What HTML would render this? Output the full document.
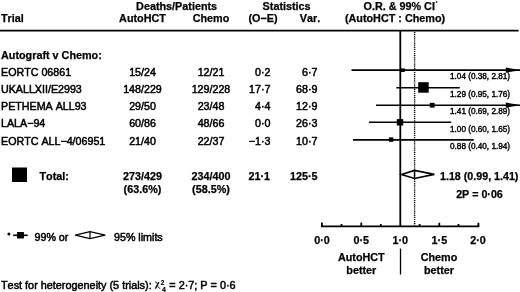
<!DOCTYPE html>
<html><head><meta charset="utf-8">
<style>
html,body{margin:0;padding:0;background:#fff;width:520px;height:292px;overflow:hidden}
svg{display:block;filter:grayscale(1)}
text{font-family:"Liberation Sans",sans-serif;fill:#000;font-kerning:none}
.b{font-weight:bold}
.h{font-size:10.8px;font-weight:bold;stroke:#000;stroke-width:0.25px}
.d{font-size:10.7px;stroke:#000;stroke-width:0.5px}
.s{font-size:8.2px;stroke:#000;stroke-width:0.4px}
</style></head><body>
<svg width="520" height="292" viewBox="0 0 520 292">
<!-- header -->
<text class="h" x="176.6" y="9.6" text-anchor="middle">Deaths/Patients</text>
<text class="h" x="286.6" y="9.6" text-anchor="middle">Statistics</text>
<text class="h" x="399.2" y="9.8" text-anchor="middle">O.R. &amp; 99% CI</text>
<text style="font-size:5.5px;font-weight:bold" x="435.6" y="5">*</text>
<text class="h" x="1" y="22.3">Trial</text>
<text class="h" x="142.5" y="22.3" text-anchor="middle">AutoHCT</text>
<text class="h" x="211" y="22.3" text-anchor="middle">Chemo</text>
<text class="h" x="263" y="22.3" text-anchor="middle">(O−E)</text>
<text class="h" x="310" y="22.3" text-anchor="middle">Var.</text>
<text class="h" x="395" y="22.3" text-anchor="middle">(AutoHCT : Chemo)</text>
<line x1="0" y1="30.7" x2="518.6" y2="30.7" stroke="#000" stroke-width="1.8"/>

<text class="h" x="1" y="58.5">Autograft v Chemo:</text>

<g class="d">
<text x="1" y="75.7">EORTC 06861</text>
<text x="1" y="93">UKALLXII/E2993</text>
<text x="1" y="109.9">PETHEMA ALL93</text>
<text x="1" y="127.2">LALA−94</text>
<text x="1" y="144.5">EORTC ALL−4/06951</text>
</g>
<g class="d" text-anchor="middle">
<text x="142.5" y="75.7">15/24</text>
<text x="142.5" y="93">148/229</text>
<text x="142.5" y="109.9">29/50</text>
<text x="142.5" y="127.2">60/86</text>
<text x="142.5" y="144.5">21/40</text>
<text x="211" y="75.7">12/21</text>
<text x="211" y="93">129/228</text>
<text x="211" y="109.9">23/48</text>
<text x="211" y="127.2">48/66</text>
<text x="211" y="144.5">22/37</text>
</g>
<g class="d" text-anchor="end">
<text x="270.5" y="75.7">0·2</text>
<text x="270.5" y="93">17·7</text>
<text x="270.5" y="109.9">4·4</text>
<text x="270.5" y="127.2">0·0</text>
<text x="270.5" y="144.5">−1·3</text>
<text x="317.5" y="75.7">6·7</text>
<text x="317.5" y="93">68·9</text>
<text x="317.5" y="109.9">12·9</text>
<text x="317.5" y="127.2">26·3</text>
<text x="317.5" y="144.5">10·7</text>
</g>

<!-- plot lines -->
<line x1="400.3" y1="31" x2="400.3" y2="227" stroke="#000" stroke-width="1.8"/>
<line x1="414.6" y1="32" x2="414.6" y2="226.5" stroke="#000" stroke-width="1.4" stroke-dasharray="1.2,0.9"/>

<g stroke="#000" stroke-width="1.6">
<line x1="351.5" y1="70.1" x2="520" y2="70.1"/>
<line x1="396.3" y1="87.8" x2="459.8" y2="87.8"/>
<line x1="376" y1="105.2" x2="520" y2="105.2"/>
<line x1="369" y1="122.3" x2="451.2" y2="122.3"/>
<line x1="353" y1="139.9" x2="473.7" y2="139.9"/>
</g>
<polygon points="505.8,67.5 521,70.2 505.8,72.7" fill="#000"/>
<polygon points="505.8,102.5 521,105.2 505.8,107.7" fill="#000"/>
<g fill="#000">
<rect x="400.8" y="68.4" width="4" height="3.6"/>
<rect x="418.2" y="82.2" width="10.5" height="10.5"/>
<rect x="429.8" y="102.8" width="4.8" height="4.8"/>
<rect x="396.8" y="119.1" width="6.4" height="6.4"/>
<rect x="388.9" y="137.4" width="4.4" height="4.4"/>
</g>
<g class="s">
<text x="450" y="79.2">1.04 (0.38, 2.81)</text>
<text x="450" y="96.6">1.29 (0.95, 1.76)</text>
<text x="450" y="114">1.41 (0.69, 2.89)</text>
<text x="450" y="132">1.00 (0.60, 1.65)</text>
<text x="450" y="149">0.88 (0.40, 1.94)</text>
</g>

<!-- total -->
<rect x="12" y="167.5" width="15" height="14.5" fill="#000"/>
<text class="h" x="39.5" y="180">Total:</text>
<text class="h" x="142.5" y="180.3" text-anchor="middle">273/429</text>
<text class="h" x="142.5" y="193.3" text-anchor="middle">(63.6%)</text>
<text class="h" x="211" y="180.3" text-anchor="middle">234/400</text>
<text class="h" x="211" y="193.3" text-anchor="middle">(58.5%)</text>
<text class="h" x="270" y="180.3" text-anchor="end">21·1</text>
<text class="h" x="317.5" y="180.3" text-anchor="end">125·5</text>
<polygon points="401.4,174.4 414.5,170.4 434.3,174.4 414.5,178.5" fill="none" stroke="#000" stroke-width="1.6" stroke-linejoin="miter"/>
<line x1="414.5" y1="170.4" x2="414.5" y2="178.5" stroke="#000" stroke-width="1.4"/>
<text style="font-size:10.7px;font-weight:bold;stroke:#000;stroke-width:0.25px" x="440" y="179.5">1.18 (0.99, 1.41)</text>
<text style="font-size:10.7px;font-weight:bold;stroke:#000;stroke-width:0.25px" x="479.5" y="197.6" text-anchor="middle">2P = 0·06</text>

<!-- axis -->
<g stroke="#000" stroke-width="1.8">
<line x1="321" y1="226.3" x2="479.3" y2="226.3"/>
<line x1="321.9" y1="222.6" x2="321.9" y2="226.3"/>
<line x1="361.3" y1="222.6" x2="361.3" y2="226.3"/>
<line x1="439.3" y1="222.8" x2="439.3" y2="226.3"/>
<line x1="478.4" y1="222.8" x2="478.4" y2="226.3"/>
<line x1="341.5" y1="224" x2="341.5" y2="226.3"/>
<line x1="380.8" y1="224" x2="380.8" y2="226.3"/>
<line x1="419.6" y1="224" x2="419.6" y2="226.3"/>
<line x1="458.5" y1="224" x2="458.5" y2="226.3"/>
</g>
<g class="h" text-anchor="middle">
<text x="322" y="244">0·0</text>
<text x="361.3" y="244">0·5</text>
<text x="400.3" y="244">1·0</text>
<text x="439.4" y="244">1·5</text>
<text x="478" y="244">2·0</text>
<text x="361.3" y="261.4">AutoHCT</text>
<text x="361.3" y="274">better</text>
<text x="439" y="261.4">Chemo</text>
<text x="439" y="274">better</text>
</g>
<line x1="400.5" y1="248.6" x2="400.5" y2="274.5" stroke="#000" stroke-width="1.3"/>

<!-- legend -->
<circle cx="8.85" cy="233.9" r="1.5" fill="#000"/>
<line x1="13.2" y1="235.3" x2="27.7" y2="235.3" stroke="#000" stroke-width="1.6"/>
<rect x="17.1" y="232" width="6.8" height="6.5" fill="#000"/>
<text class="d" x="34.5" y="240.5">99% or</text>
<polygon points="75.2,235.2 90,231.7 105.2,235.2 90,238.7" fill="none" stroke="#000" stroke-width="1.3"/>
<line x1="90" y1="231.7" x2="90" y2="238.7" stroke="#000" stroke-width="1.2"/>
<text class="d" x="114" y="240.8">95% limits</text>

<text class="d" style="font-size:10.85px" x="1" y="289">Test for heterogeneity (5 trials):</text>
<path d="M155.4,288.6 L158.9,282" stroke="#000" stroke-width="1.3" fill="none"/>
<path d="M154.9,282 C156.6,281.4 157.1,283.2 157.6,285.2 C158.1,287.2 158.8,288.6 160.3,288.1" stroke="#000" stroke-width="0.9" fill="none"/>
<text style="font-size:6.4px;font-weight:bold;stroke:#000;stroke-width:0.2px" x="160.8" y="285">2</text>
<text style="font-size:6.8px;font-weight:bold;stroke:#000;stroke-width:0.2px" x="162" y="291.7">4</text>
<text class="d" style="font-size:10.85px" x="169.3" y="289">= 2·7; P = 0·6</text>
</svg>
</body></html>
